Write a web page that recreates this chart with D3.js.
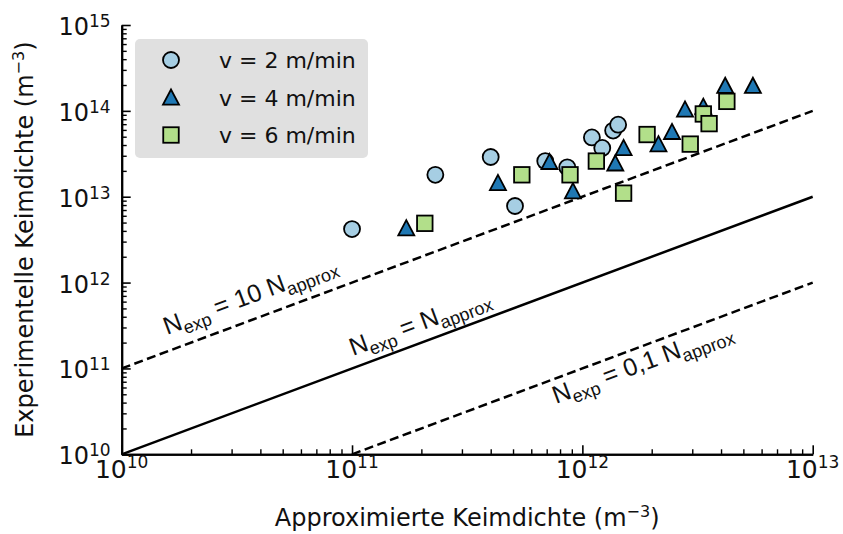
<!DOCTYPE html>
<html>
<head>
<meta charset="utf-8">
<script src="https://cdn.jsdelivr.net/npm/d3@7"></script>
<style>
  html, body { margin: 0; padding: 0; background: #fff; }
  svg { display: block; font-family: "DejaVu Sans", sans-serif; }
</style>
</head>
<body>
<svg id="chart" width="843" height="534"></svg>
<script>
// Nucleation density: approximated vs. experimental, per cooling speed
const seriesLabels = ["v = 2 m/min", "v = 4 m/min", "v = 6 m/min"];

const approxV2 = [1.0e11, 2.3e11, 4.0e11, 5.1e11, 6.9e11, 8.6e11, 1.1e12, 1.22e12, 1.36e12, 1.43e12];
const expV2    = [4.2e12, 1.8e13, 2.9e13, 7.8e12, 2.6e13, 2.2e13, 4.9e13, 3.7e13, 5.9e13, 6.9e13];

const approxV4 = [1.72e11, 4.3e11, 7.2e11, 9.1e11, 1.39e12, 1.51e12, 2.14e12, 2.45e12, 2.79e12, 3.35e12, 4.17e12, 5.5e12];
const expV4    = [4.3e12, 1.45e13, 2.55e13, 1.16e13, 2.45e13, 3.7e13, 4.1e13, 5.7e13, 1.04e14, 1.12e14, 1.96e14, 1.96e14];

const approxV6 = [2.07e11, 5.46e11, 8.84e11, 1.15e12, 1.51e12, 1.91e12, 2.94e12, 3.35e12, 3.55e12, 4.24e12];
const expV6    = [4.9e12, 1.8e13, 1.8e13, 2.6e13, 1.1e13, 5.3e13, 4.1e13, 9.2e13, 7.1e13, 1.29e14];

const xDecades = [1e10, 1e11, 1e12, 1e13];
const yDecades = [1e10, 1e11, 1e12, 1e13, 1e14, 1e15];
const xExponents = ["10", "11", "12", "13"];
const yExponents = ["10", "11", "12", "13", "14", "15"];

// Reference lines N_exp = k * N_approx
const refFactors = [10, 1, 0.1];
const refFactorText = ["10 ", "", "0,1 "];
const refLabelStart = [1.66e10, 1.05e11, 7.06e11];   // where along the line each label sits
const refLabelOffset = [15.6, 11.3, -24];              // perpendicular distance from the line

const svg = d3.select("#chart");

const x = d3.scaleLog().domain([1e10, 1e13]).range([121.7, 812.7]);
const y = d3.scaleLog().domain([1e10, 1e15]).range([454.3, 25]);

function minorTicks(lo, hi) {
  const t = [];
  for (let e = Math.round(Math.log10(lo)); e < Math.round(Math.log10(hi)); e++) {
    for (let m = 2; m <= 9; m++) t.push(m * Math.pow(10, e));
  }
  return t;
}

// ---- reference lines ----
const refLine = d3.line().x(d => x(d[0])).y(d => y(d[1]));
refFactors.forEach((k) => {
  const x0 = Math.max(x.domain()[0], y.domain()[0] / k);
  const x1 = x.domain()[1];
  svg.append("path")
    .attr("d", refLine([[x0, k * x0], [x1, k * x1]]))
    .attr("fill", "none")
    .attr("stroke", "#000")
    .attr("stroke-width", 2.5)
    .attr("stroke-dasharray", k === 1 ? null : "9,4.5");
});

// ---- reference line labels ----
const angle = Math.atan2(y(1e13) - y(1e12), x(1e13) - x(1e12));
const angleDeg = angle * 180 / Math.PI;
const nx = Math.sin(angle), ny = -Math.cos(angle);
refFactors.forEach((k, i) => {
  const xs = refLabelStart[i];
  const px = x(xs) + refLabelOffset[i] * nx;
  const py = y(k * xs) + refLabelOffset[i] * ny;
  const t = svg.append("text")
    .attr("transform", `translate(${px},${py}) rotate(${angleDeg})`)
    .style("font-family", "'Liberation Sans', Arial, sans-serif")
    .style("font-size", "25px")
    .attr("fill", "#111");
  t.append("tspan").text("N");
  t.append("tspan").attr("dy", 6).style("font-size", "18px").text("exp");
  t.append("tspan").attr("dy", -6).text(" = " + refFactorText[i] + "N");
  t.append("tspan").attr("dy", 6).style("font-size", "18px").text("approx");
});

// ---- axes ----
const axisColor = "#000";
function styleAxis(g, width) {
  g.select(".domain").attr("stroke", axisColor).attr("stroke-width", 2);
  g.selectAll(".tick line").attr("stroke", axisColor).attr("stroke-width", width);
  g.selectAll(".tick text").remove();
}

const gxMinor = svg.append("g").attr("transform", `translate(0,${y.range()[0]})`)
  .call(d3.axisBottom(x).tickValues(minorTicks(1e10, 1e13)).tickSize(-5).tickSizeOuter(0).tickFormat(""));
styleAxis(gxMinor, 1.4);
const gxMajor = svg.append("g").attr("transform", `translate(0,${y.range()[0]})`)
  .call(d3.axisBottom(x).tickValues(xDecades).tickSize(-9).tickSizeOuter(0).tickFormat(""));
styleAxis(gxMajor, 1.6);

const gyMinor = svg.append("g").attr("transform", `translate(${x.range()[0]},0)`)
  .call(d3.axisLeft(y).tickValues(minorTicks(1e10, 1e15)).tickSize(-5).tickSizeOuter(0).tickFormat(""));
styleAxis(gyMinor, 1.4);
const gyMajor = svg.append("g").attr("transform", `translate(${x.range()[0]},0)`)
  .call(d3.axisLeft(y).tickValues(yDecades).tickSize(-9).tickSizeOuter(0).tickFormat(""));
styleAxis(gyMajor, 1.6);

// power-of-ten tick labels
xDecades.forEach((v, i) => {
  const t = svg.append("text")
    .attr("x", x(v)).attr("y", y.range()[0] + 24)
    .attr("text-anchor", "middle").attr("fill", "#111")
    .style("font-size", "25px");
  t.append("tspan").text("10");
  t.append("tspan").attr("dy", -10).style("font-size", "17px").text(xExponents[i]);
});
yDecades.forEach((v, i) => {
  const t = svg.append("text")
    .attr("x", x.range()[0] - 11).attr("y", y(v) + 10)
    .attr("text-anchor", "end").attr("fill", "#111")
    .style("font-size", "24px");
  t.append("tspan").text("10");
  t.append("tspan").attr("dy", -8).style("font-size", "17px").text(yExponents[i]);
});

// axis titles
const xTitle = svg.append("text")
  .attr("x", (x.range()[0] + x.range()[1]) / 2).attr("y", 526)
  .attr("text-anchor", "middle").attr("fill", "#111")
  .style("font-size", "24px");
xTitle.append("tspan").text("Approximierte Keimdichte (m");
xTitle.append("tspan").attr("dy", -9).style("font-size", "16px").text("\u22123");
xTitle.append("tspan").attr("dy", 9).text(")");

const yTitle = svg.append("text")
  .attr("transform", `translate(33,${(y.range()[0] + y.range()[1]) / 2}) rotate(-90)`)
  .attr("text-anchor", "middle").attr("fill", "#111")
  .style("font-size", "24px");
yTitle.append("tspan").text("Experimentelle Keimdichte (m");
yTitle.append("tspan").attr("dy", -9).style("font-size", "16px").text("\u22123");
yTitle.append("tspan").attr("dy", 9).text(")");

// ---- markers ----
const seriesColors = ["#a6cee3", "#1f78b4", "#b2df8a"];
const markerStroke = { stroke: "#000", width: 1.8 };

function drawCircle(g, cx, cy, fill) {
  g.append("circle").attr("cx", cx).attr("cy", cy).attr("r", 8)
    .attr("fill", fill).attr("stroke", markerStroke.stroke).attr("stroke-width", markerStroke.width);
}
function drawTriangle(g, cx, cy, fill) {
  const h = 8;
  g.append("path")
    .attr("d", `M${cx},${cy - h}L${cx + h},${cy + h * 0.9}L${cx - h},${cy + h * 0.9}Z`)
    .attr("fill", fill).attr("stroke", markerStroke.stroke).attr("stroke-width", markerStroke.width)
    .attr("stroke-linejoin", "miter");
}
function drawSquare(g, cx, cy, fill) {
  const s = 15.5;
  g.append("rect").attr("x", cx - s / 2).attr("y", cy - s / 2).attr("width", s).attr("height", s)
    .attr("fill", fill).attr("stroke", markerStroke.stroke).attr("stroke-width", markerStroke.width);
}
const drawers = [drawCircle, drawTriangle, drawSquare];
const seriesX = [approxV2, approxV4, approxV6];
const seriesY = [expV2, expV4, expV6];

const gPts = svg.append("g");
seriesX.forEach((xs, s) => {
  xs.forEach((v, i) => drawers[s](gPts, x(v), y(seriesY[s][i]), seriesColors[s]));
});

// ---- legend ----
const legend = svg.append("g");
legend.append("rect").attr("x", 135).attr("y", 39).attr("width", 233).attr("height", 119)
  .attr("rx", 5).attr("fill", "#e0e0e0");
seriesLabels.forEach((lab, i) => {
  const cy = 60 + i * 37.5;
  drawers[i](legend, 171, cy, seriesColors[i]);
  legend.append("text").attr("x", 219).attr("y", cy + 8)
    .attr("fill", "#111").style("font-size", "22px").text(lab);
});
</script>
</body>
</html>
